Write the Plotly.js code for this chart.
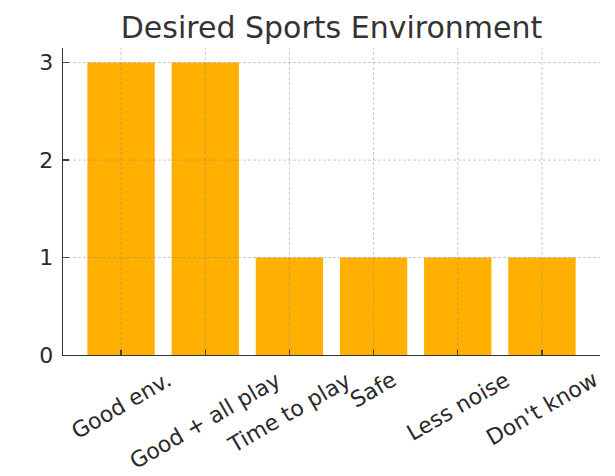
<!DOCTYPE html>
<html>
<head>
<meta charset="utf-8">
<script src="https://cdn.plot.ly/plotly-3.0.1.min.js"></script>
<style>html,body{margin:0;padding:0;background:#fff;}#chart{width:615px;height:476px;}</style>
</head>
<body>
<div id="chart"></div>
<script>
const categories = ["Good env.", "Good + all play", "Time to play", "Safe", "Less noise", "Don't know"];
const counts = [3, 3, 1, 1, 1, 1];
const yTicks = [0, 1, 2, 3];
const titleText = "Desired Sports Environment";

const gridLine = {color: "rgba(128,128,128,0.42)", width: 1, dash: "3px,2px"};
const shapes = [];
yTicks.slice(1).forEach(v => shapes.push({type: "line", layer: "above", xref: "paper", yref: "y", x0: 0, x1: 1, y0: v, y1: v, line: gridLine}));
categories.forEach(c => shapes.push({type: "line", layer: "above", xref: "x", yref: "paper", x0: c, x1: c, y0: 0, y1: 1, line: gridLine}));

const annotations = categories.map(c => ({
  x: c, xref: "x", y: 0, yref: "paper", yanchor: "top", xanchor: "center",
  yshift: -9, text: c, showarrow: false, textangle: -30,
  font: {family: "DejaVu Sans", size: 22, color: "#2a2a2a"}
}));

const trace = {
  type: "bar", x: categories, y: counts, width: 0.8,
  marker: {color: "#FFB000", line: {width: 0}}, hoverinfo: "none"
};

const layout = {
  width: 615, height: 476,
  margin: {l: 63, r: 15, t: 48, b: 121, pad: 0},
  paper_bgcolor: "#fff", plot_bgcolor: "#fff",
  font: {family: "DejaVu Sans", color: "#333"},
  title: {text: titleText, font: {family: "DejaVu Sans", size: 30, color: "#333"},
          x: 0.5, xref: "paper", y: 1 - 27/476, yref: "container", yanchor: "middle"},
  showlegend: false,
  xaxis: {type: "category", range: [-0.69, 5.69], showgrid: false, zeroline: false,
          showline: true, linecolor: "#333", linewidth: 1.3,
          ticks: "inside", ticklen: 5, tickwidth: 1.2, tickcolor: "#333",
          showticklabels: false, fixedrange: true, layer: "above traces"},
  yaxis: {range: [0, 3.15], tickvals: yTicks, ticktext: yTicks.map(String),
          showgrid: false, zeroline: false,
          showline: true, linecolor: "#333", linewidth: 1.3,
          ticks: "inside", ticklen: 6, tickwidth: 1.2, tickcolor: "#333",
          ticklabelstandoff: 4,
          tickfont: {family: "DejaVu Sans", size: 22, color: "#2a2a2a"},
          fixedrange: true, layer: "above traces"},
  shapes: shapes,
  annotations: annotations
};

Plotly.newPlot("chart", [trace], layout, {displayModeBar: false, staticPlot: true});
</script>
</body>
</html>
